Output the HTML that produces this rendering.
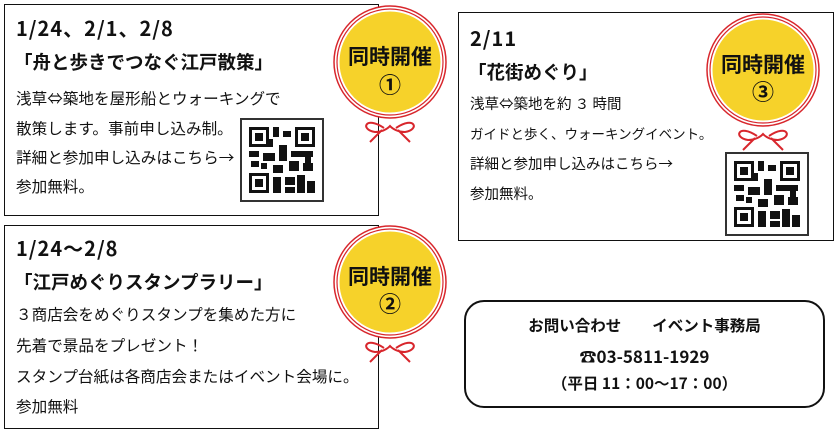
<!DOCTYPE html><html><head><meta charset="utf-8"><style>
body{margin:0;width:840px;height:440px;background:#fff;position:relative;overflow:hidden;font-family:"Noto Sans CJK JP","Liberation Sans",sans-serif;color:#111}
.box{position:absolute;border:1.5px solid #111;box-sizing:border-box;background:#fff}
.t{position:absolute;white-space:nowrap;line-height:1}
.d{font-weight:bold;font-size:20px;letter-spacing:1px}
.h{font-weight:bold;font-size:18.5px}
.b{font-size:15.6px}
.c{position:absolute;text-align:center;font-weight:bold;font-size:16px;white-space:nowrap;line-height:1}
</style></head><body>
<div class="box" style="left:4px;top:4px;width:375px;height:212px"></div>
<div class="box" style="left:4px;top:225px;width:375px;height:204px"></div>
<div class="box" style="left:458px;top:12px;width:376px;height:229px"></div>
<div class="box" style="left:464px;top:300px;width:361px;height:108px;border-radius:20px;border-width:2px"></div>

<div class="t d" style="left:16px;top:18px">1/24、2/1、2/8</div>
<div class="t h" style="left:14px;top:53px">「舟と歩きでつなぐ江戸散策」</div>
<div class="t b" style="left:16px;top:91px">浅草⇔築地を屋形船とウォーキングで</div>
<div class="t b" style="left:16px;top:121px">散策します。事前申し込み制。</div>
<div class="t b" style="left:16px;top:150px">詳細と参加申し込みはこちら→</div>
<div class="t b" style="left:16px;top:179px">参加無料。</div>

<div class="t d" style="left:16px;top:238px">1/24～2/8</div>
<div class="t h" style="left:14px;top:273px">「江戸めぐりスタンプラリー」</div>
<div class="t b" style="left:16px;top:307px">３商店会をめぐりスタンプを集めた方に</div>
<div class="t b" style="left:16px;top:338px">先着で景品をプレゼント！</div>
<div class="t b" style="left:16px;top:369px">スタンプ台紙は各商店会またはイベント会場に。</div>
<div class="t b" style="left:16px;top:399px">参加無料</div>

<div class="t d" style="left:470px;top:28px">2/11</div>
<div class="t h" style="left:468px;top:63px">「花街めぐり」</div>
<div class="t b" style="left:470px;top:97px;font-size:14.5px">浅草⇔築地を約 ３ 時間</div>
<div class="t b" style="left:470px;top:127px;font-size:13.5px">ガイドと歩く、ウォーキングイベント。</div>
<div class="t b" style="left:470px;top:157px;font-size:14.5px">詳細と参加申し込みはこちら→</div>
<div class="t b" style="left:470px;top:187px;font-size:14.5px">参加無料。</div>

<div class="c" style="left:464px;width:361px;top:318px;font-size:15.5px">お問い合わせ　　イベント事務局</div>
<div class="c" style="left:464px;width:361px;top:347px;font-size:17px">☎03-5811-1929</div>
<div class="c" style="left:464px;width:361px;top:376px;font-size:15.5px">（平日 11：00～17：00）</div>

<svg width="840" height="440" style="position:absolute;left:0;top:0;pointer-events:none">
<defs>
<g id="qr">
<rect x="0" y="0" width="82" height="82" fill="#fff" stroke="#333" stroke-width="2"/>
<g fill="#111">
<rect x="8" y="8" width="20" height="20"/><rect x="54" y="8" width="20" height="20"/><rect x="8" y="54" width="20" height="20"/>
<rect x="32" y="8" width="6" height="10"/><rect x="42" y="12" width="8" height="6"/><rect x="8" y="32" width="10" height="6"/>
<rect x="22" y="34" width="12" height="8"/><rect x="38" y="26" width="8" height="16"/><rect x="50" y="32" width="22" height="6"/>
<rect x="10" y="42" width="8" height="6"/><rect x="32" y="46" width="10" height="8"/><rect x="48" y="42" width="10" height="10"/>
<rect x="62" y="44" width="10" height="8"/><rect x="32" y="58" width="8" height="16"/><rect x="44" y="58" width="10" height="8"/>
<rect x="56" y="56" width="8" height="18"/><rect x="44" y="68" width="10" height="6"/><rect x="66" y="62" width="8" height="12"/>
<rect x="20" y="44" width="6" height="6"/><rect x="28" y="20" width="4" height="8"/><rect x="64" y="36" width="6" height="10"/>
</g>
<g fill="#fff"><rect x="11" y="11" width="14" height="14"/><rect x="57" y="11" width="14" height="14"/><rect x="11" y="57" width="14" height="14"/></g>
<g fill="#111"><rect x="14" y="14" width="8" height="8"/><rect x="60" y="14" width="8" height="8"/><rect x="14" y="60" width="8" height="8"/></g>
</g>
<g id="badge">
<circle r="56" fill="#fff" stroke="#d8262c" stroke-width="1.5"/>
<circle r="53" fill="none" stroke="#d8262c" stroke-width="1.2"/>
<circle r="50.5" fill="#f6d22a"/>
<path d="M-6 66 C-25 53 -30 68 -15 70 C-5 70 0 64 0 64 C0 64 5 70 15 70 C30 68 25 53 6 66 M-8 68 L-20 80 M8 68 L20 80" fill="none" stroke="#d8262c" stroke-width="2"/>
</g>
</defs>
<use href="#qr" x="241" y="119"/>
<use href="#qr" x="726" y="153"/>
<g transform="translate(390,62)"><use href="#badge"/></g>
<g transform="translate(390,282)"><use href="#badge"/></g>
<g transform="translate(763,70)"><use href="#badge"/></g>
<g font-family="Noto Sans CJK JP,Liberation Sans,sans-serif" font-weight="bold" text-anchor="middle" fill="#111">
<text x="390" y="64" font-size="21">同時開催</text><text x="390" y="93" font-size="22">①</text>
<text x="390" y="284" font-size="21">同時開催</text><text x="390" y="312" font-size="22">②</text>
<text x="763" y="72" font-size="21">同時開催</text><text x="763" y="100" font-size="22">③</text>
</g>
</svg>
</body></html>
